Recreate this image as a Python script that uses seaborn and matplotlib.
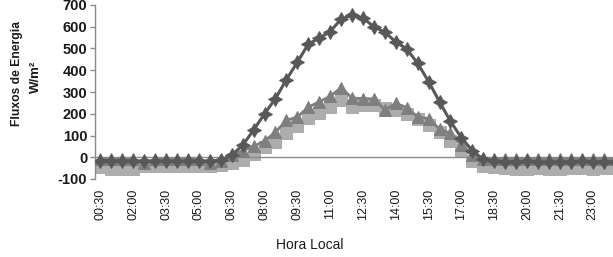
import matplotlib
matplotlib.use("Agg")
import matplotlib.pyplot as plt
import seaborn as sns
import numpy as np
import pandas as pd

# ---- data ----
times = ["00:30", "01:00", "01:30", "02:00", "02:30", "03:00", "03:30", "04:00",
         "04:30", "05:00", "05:30", "06:00", "06:30", "07:00", "07:30", "08:00",
         "08:30", "09:00", "09:30", "10:00", "10:30", "11:00", "11:30", "12:00",
         "12:30", "13:00", "13:30", "14:00", "14:30", "15:00", "15:30", "16:00",
         "16:30", "17:00", "17:30", "18:00", "18:30", "19:00", "19:30", "20:00",
         "20:30", "21:00", "21:30", "22:00", "22:30", "23:00", "23:30", "24:00"]

serie_escura = [-15, -16, -17, -18, -17, -18, -18, -19, -18, -17, -18, -14,
                10, 55, 125, 200, 270, 357, 437, 520, 547, 578, 635, 653,
                640, 600, 575, 530, 498, 432, 348, 255, 165, 90, 30, -10,
                -18, -20, -20, -19, -20, -21, -20, -20, -19, -20, -20, -20]

serie_media = [-8, -8, -10, -9, -28, -10, -10, -10, -10, -10, -25, -15,
               10, 30, 50, 75, 115, 170, 185, 230, 255, 280, 320, 272,
               270, 268, 218, 248, 228, 185, 178, 130, 110, 55, 10, -10,
               -8, -8, -8, -7, -6, -8, -8, -8, -7, -8, -8, -8]

serie_clara = [-45, -52, -52, -52, -42, -42, -42, -42, -40, -40, -42, -35,
               -25, -12, 15, 45, 70, 110, 145, 180, 205, 230, 265, 232,
               240, 240, 225, 215, 200, 175, 150, 115, 75, 35, -15, -40,
               -45, -50, -55, -55, -50, -55, -55, -50, -50, -55, -50, -50]

label_every = 3

df = pd.DataFrame({
    "idx": np.arange(len(times)),
    "escura": serie_escura,
    "media": serie_media,
    "clara": serie_clara,
})

sns.set_style("white")
plt.rcParams["font.family"] = ["Liberation Sans", "DejaVu Sans"]

fig = plt.figure(figsize=(6.13, 2.57), dpi=100)
ax = fig.add_axes([95 / 613, 78 / 257, 525 / 613, 174 / 257])

sns.lineplot(data=df, x="idx", y="clara", ax=ax, color="#adadad", lw=2,
             marker="s", markersize=9, markeredgecolor="#adadad", zorder=2)
sns.lineplot(data=df, x="idx", y="media", ax=ax, color="#7f7f7f", lw=2,
             marker="^", markersize=8.5, markeredgecolor="#7f7f7f", zorder=3)
sns.lineplot(data=df, x="idx", y="escura", ax=ax, color="#585858", lw=2.2,
             marker=(4, 1, 0), markersize=10, markeredgecolor="#585858", zorder=4)

for s in ["top", "right"]:
    ax.spines[s].set_visible(False)
ax.spines["bottom"].set_position(("data", 0))
ax.spines["bottom"].set_color("#8a8a8a")
ax.spines["left"].set_color("#8a8a8a")
ax.spines["bottom"].set_linewidth(1)
ax.spines["left"].set_linewidth(1)

ax.set_xlim(-0.5, len(times) - 0.5)
ax.set_ylim(-100, 700)
ax.set_yticks(np.arange(-100, 701, 100))
ax.set_yticklabels([str(v) for v in range(-100, 701, 100)], fontsize=10.5,
                   fontweight="bold", color="#1a1a1a")

tick_idx = list(range(0, len(times), label_every))
ax.set_xticks(tick_idx)
ax.set_xticklabels([times[i] for i in tick_idx], rotation=90, fontsize=9,
                   color="#1a1a1a", va="top", ha="center")
ax.set_xticks(np.arange(0.5, len(times) - 0.5, 1), minor=True)

ax.tick_params(axis="x", which="major", length=0, pad=22.5)
ax.tick_params(axis="x", which="minor", length=3.5, direction="out",
               color="#8a8a8a", width=1)
ax.tick_params(axis="y", which="major", length=3.5, direction="out",
               color="#8a8a8a", width=1, pad=2, left=True)

ax.set_xlabel("")
ax.set_ylabel("")
ax.grid(False)

fig.text(310 / 613, 1 - 245 / 257, "Hora Local", ha="center", va="center",
         fontsize=10, color="#1a1a1a")
fig.text(17 / 613, 1 - 73 / 257, "Fluxos de Energia", rotation=90, ha="center",
         va="center", fontsize=8.7, fontweight="bold", color="#1a1a1a")
fig.text(36 / 613, 1 - 77 / 257, "W/m²", rotation=90, ha="center",
         va="center", fontsize=9.5, fontweight="bold", color="#1a1a1a")

fig.savefig("out.png", dpi=100)
